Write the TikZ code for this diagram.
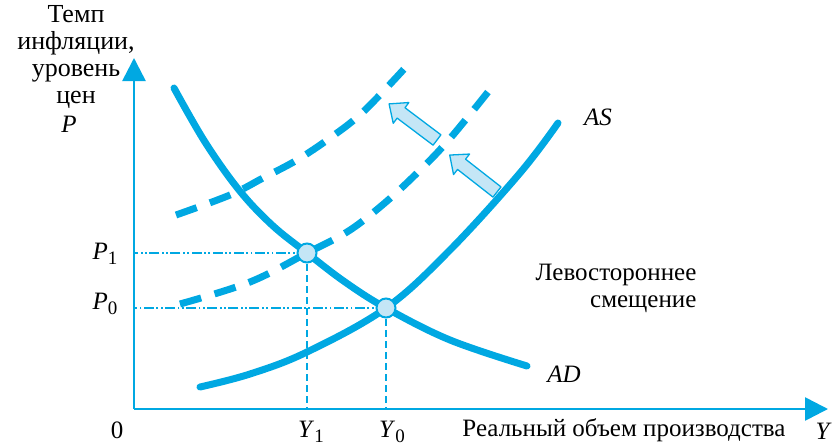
\documentclass[tikz,border=0pt]{standalone}
\usepackage{fontspec}
\setmainfont{Liberation Serif}
\usetikzlibrary{arrows.meta}
\definecolor{cb}{RGB}{0,168,226}
\definecolor{cl}{RGB}{196,230,246}
\newcommand\lsub[2]{\textit{#1}\raisebox{-0.45ex}{\fontsize{19}{19}\selectfont #2}}
\tikzset{
  axis/.style={draw=cb, line width=2.6pt, -{Triangle[width=23pt,length=23pt]}},
  curve/.style={draw=cb, line width=7pt, line cap=round},
  dcurve/.style={draw=cb, line width=7pt, dash pattern=on 22pt off 14pt},
  guide/.style={draw=cb, line width=1.3pt, dash pattern=on 10pt off 2.5pt on 1.8pt off 2.5pt on 1.8pt off 2.5pt},
  vguide/.style={draw=cb, line width=1.3pt, dash pattern=on 7pt off 4pt},
  eqpt/.style={circle, draw=cb, fill=cl, line width=2pt, minimum size=19pt, inner sep=0pt},
  blockarrow/.style={draw=cb, fill=cl, line width=1.3pt, line join=round},
  lbl/.style={text=black, inner sep=1pt}
}
\begin{document}
\begin{tikzpicture}[x=1pt,y=-1pt, font=\fontsize{25}{27}\selectfont]
\useasboundingbox (0,0) rectangle (834,447);
\coordinate (O) at (134,409);
\coordinate (Ytop) at (134,58);
\coordinate (Xend) at (828,409);
% labels
\node[lbl, align=center, font=\fontsize{26}{27}\selectfont] (ttl) at (76,57) {Темп\\инфляции,\\уровень\\цен};
\node[lbl] (Plab) at (69,124) {\textit{P}};
\node[lbl] (zero) at (117,430) {0};
\node[lbl] (P1lab) at (105,254) {\lsub{P}{1}};
\node[lbl] (P0lab) at (105,304) {\lsub{P}{0}};
\node[lbl] (Y1lab) at (311,432) {\lsub{Y}{1}};
\node[lbl] (Y0lab) at (392,432) {\lsub{Y}{0}};
\node[lbl] (xtitle) at (624,430) {Реальный объем производства};
\node[lbl, anchor=east] (Ylab) at (833,431) {\textit{Y}};
\node[lbl] (ASlab) at (598,117) {\textit{AS}};
\node[lbl] (ADlab) at (564,374) {\textit{AD}};
\node[lbl, align=right] (shift) at (616,288) {Левостороннее\\смещение};
% equilibrium points (positions)
\coordinate (E1c) at (307,253);
\coordinate (E0c) at (386,308);
% guides
\draw[guide] (E1c) -- (E1c -| O);
\draw[guide] (E0c) -- (E0c -| O);
\draw[vguide] (E1c) -- (E1c |- O);
\draw[vguide] (E0c) -- (E0c |- O);
% axes
\draw[axis] (O) -- (Ytop);
\draw[axis] (O) -- (Xend);
% shifted AS curves (dashed)
\draw[dcurve] plot[smooth, tension=0.6] coordinates {(176,215) (230,195) (263,178) (297,160) (330,138) (363,112) (405,68)};
\draw[dcurve] plot[smooth, tension=0.6] coordinates {(180,304) (250,282) (307,253) (347,232) (380,207) (413,177) (447,142) (488,92)};
% AD and AS
\draw[curve] plot[smooth, tension=0.6] coordinates {(174,88) (205,142) (239,190) (272,225) (307,253) (345,282) (386,308) (450,340) (527,366)};
\draw[curve] plot[smooth, tension=0.6] coordinates {(200,387) (250,374) (307,352) (386,308) (450,250) (520,173) (558,123)};
% points
\node[eqpt] (E1) at (E1c) {};
\node[eqpt] (E0) at (E0c) {};
% shift arrows
\begin{scope}[shift={(437,140)}, rotate=143]
\draw[blockarrow] (0,-6.5) -- (45,-6.5) -- (45,-13) -- (60,0) -- (45,13) -- (45,6.5) -- (0,6.5) -- cycle;
\end{scope}
\begin{scope}[shift={(497,192)}, rotate=142]
\draw[blockarrow] (0,-6.5) -- (45,-6.5) -- (45,-13) -- (60,0) -- (45,13) -- (45,6.5) -- (0,6.5) -- cycle;
\end{scope}
\end{tikzpicture}
\end{document}
